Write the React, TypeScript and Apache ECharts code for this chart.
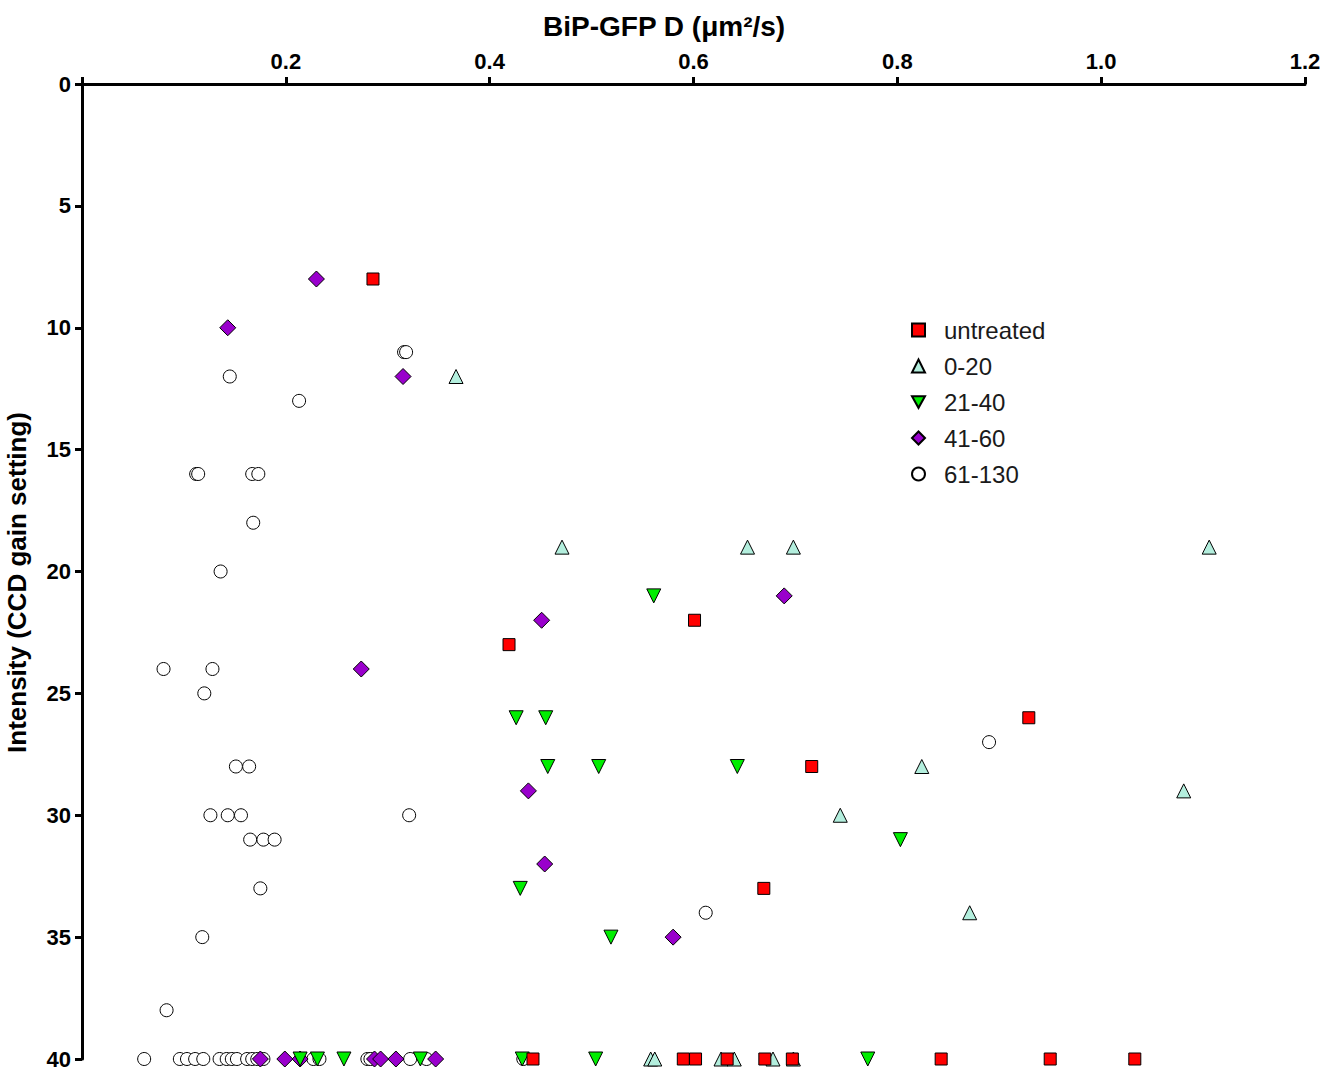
import React, { useEffect, useRef } from "react";
import * as echarts from "echarts";

// [D (µm²/s), Intensity]
const untreated: number[][] = [
  [0.2855, 8], [0.419, 23], [0.601, 22], [0.929, 26], [0.716, 28], [0.669, 33],
  [0.4425, 40], [0.590, 40], [0.602, 40], [0.633, 40], [0.670, 40], [0.697, 40],
  [0.843, 40], [0.950, 40], [1.033, 40],
];
const g0to20: number[][] = [
  [0.367, 12], [0.471, 19], [0.653, 19], [0.698, 19], [1.106, 19], [0.824, 28],
  [1.081, 29], [0.744, 30], [0.871, 34],
  [0.558, 40], [0.562, 40], [0.627, 40], [0.640, 40], [0.678, 40], [0.698, 40],
];
const g21to40: number[][] = [
  [0.561, 21], [0.426, 26], [0.455, 26], [0.457, 28], [0.507, 28], [0.643, 28],
  [0.803, 31], [0.430, 33], [0.519, 35],
  [0.214, 40], [0.231, 40], [0.257, 40], [0.332, 40], [0.432, 40], [0.504, 40], [0.771, 40],
];
const g41to60: number[][] = [
  [0.230, 8], [0.143, 10], [0.315, 12], [0.689, 21], [0.451, 22], [0.274, 24],
  [0.438, 29], [0.454, 32], [0.580, 35],
  [0.175, 40], [0.199, 40], [0.214, 40], [0.287, 40], [0.293, 40], [0.308, 40], [0.347, 40],
];
const g61to130: number[][] = [
  [0.316, 11], [0.318, 11], [0.145, 12], [0.213, 13], [0.112, 16], [0.114, 16],
  [0.167, 16], [0.173, 16], [0.168, 18], [0.136, 20], [0.080, 24], [0.128, 24],
  [0.120, 25], [0.890, 27], [0.151, 28], [0.164, 28], [0.126, 30], [0.143, 30],
  [0.156, 30], [0.321, 30], [0.165, 31], [0.178, 31], [0.189, 31], [0.175, 33],
  [0.612, 34], [0.118, 35], [0.083, 38],
  [0.061, 40], [0.096, 40], [0.103, 40], [0.111, 40], [0.119, 40], [0.135, 40],
  [0.142, 40], [0.147, 40], [0.152, 40], [0.162, 40], [0.167, 40], [0.172, 40],
  [0.178, 40], [0.227, 40], [0.233, 40], [0.280, 40], [0.283, 40], [0.322, 40],
  [0.338, 40], [0.433, 40],
];

const seriesNames = ["untreated", "0-20", "21-40", "41-60", "61-130"];
const xTicks = [0, 0.2, 0.4, 0.6, 0.8, 1.0, 1.2];
const yTicks = [0, 5, 10, 15, 20, 25, 30, 35, 40];

const FONT = "'Liberation Sans', Arial, sans-serif";
const DOWN_TRI = "path://M0,0 L10,0 L5,9 Z";

export default function App() {
  const ref = useRef<HTMLDivElement>(null);
  useEffect(() => {
    if (!ref.current) return;
    const chart = echarts.init(ref.current, undefined, { renderer: "svg" });
    const border = { borderColor: "#000", borderWidth: 1 };
    const mk = (name: string, data: number[][], symbol: string, size: number, color: string) => ({
      name,
      type: "scatter",
      data,
      symbol,
      symbolSize: size,
      clip: false,
      itemStyle: { color, ...border, opacity: 1 },
    });
    const legendIcons: Record<string, string> = {
      untreated: "rect",
      "0-20": "triangle",
      "21-40": DOWN_TRI,
      "41-60": "diamond",
      "61-130": "circle",
    };
    chart.setOption({
      animation: false,
      backgroundColor: "#fff",
      grid: { left: 82, top: 84, right: 18, bottom: 14, outerBoundsMode: "none", containLabel: false },
      title: {
        text: "BiP-GFP D (μm²/s)",
        left: 538,
        top: 7,
        textStyle: { fontFamily: FONT, fontSize: 28, fontWeight: "bold", color: "#000" },
      },
      legend: {
        orient: "vertical",
        left: 906,
        top: 313,
        itemWidth: 13,
        itemHeight: 13,
        itemGap: 12,
        textStyle: { fontFamily: FONT, fontSize: 24, color: "#1a1a1a", padding: [0, 0, 0, 14] },
        data: seriesNames.map((n) => ({ name: n, icon: legendIcons[n] })),
      },
      xAxis: {
        type: "value",
        position: "top",
        min: 0,
        max: 1.2,
        interval: 0.2,
        axisLine: { show: true, onZero: false, lineStyle: { color: "#000", width: 3 } },
        axisTick: { show: true, inside: false, length: 7, lineStyle: { color: "#000", width: 3 } },
        splitLine: { show: false },
        axisLabel: {
          margin: 12,
          fontFamily: FONT,
          fontSize: 22,
          fontWeight: "bold",
          color: "#000",
          formatter: (v: number) => (v === 0 ? "" : xTicks.includes(Math.round(v * 10) / 10) ? v.toFixed(1) : ""),
        },
      },
      yAxis: {
        type: "value",
        inverse: true,
        min: 0,
        max: 40,
        interval: 5,
        name: "Intensity (CCD gain setting)",
        nameLocation: "middle",
        nameGap: 52,
        nameTextStyle: { fontFamily: FONT, fontSize: 26, fontWeight: "bold", color: "#000", padding: [0, 22, 0, 0] },
        axisLine: { show: true, onZero: false, lineStyle: { color: "#000", width: 3 } },
        axisTick: { show: true, inside: false, length: 7, lineStyle: { color: "#000", width: 3 } },
        splitLine: { show: false },
        axisLabel: {
          margin: 11,
          fontFamily: FONT,
          fontSize: 22,
          fontWeight: "bold",
          color: "#000",
          formatter: (v: number) => (yTicks.includes(v) ? String(v) : ""),
        },
      },
      series: [
        mk("61-130", g61to130, "circle", 13, "#fff"),
        mk("41-60", g41to60, "diamond", 16, "#9900cc"),
        mk("21-40", g21to40, DOWN_TRI, 14, "#00ee00"),
        mk("0-20", g0to20, "triangle", 14, "#b3eedd"),
        mk("untreated", untreated, "rect", 12, "#ff0000"),
      ],
    });
    return () => chart.dispose();
  }, []);
  return (
    <div
      ref={ref}
      style={{ position: "fixed", left: 0, top: 0, width: 1323, height: 1073, background: "#fff" }}
    />
  );
}
